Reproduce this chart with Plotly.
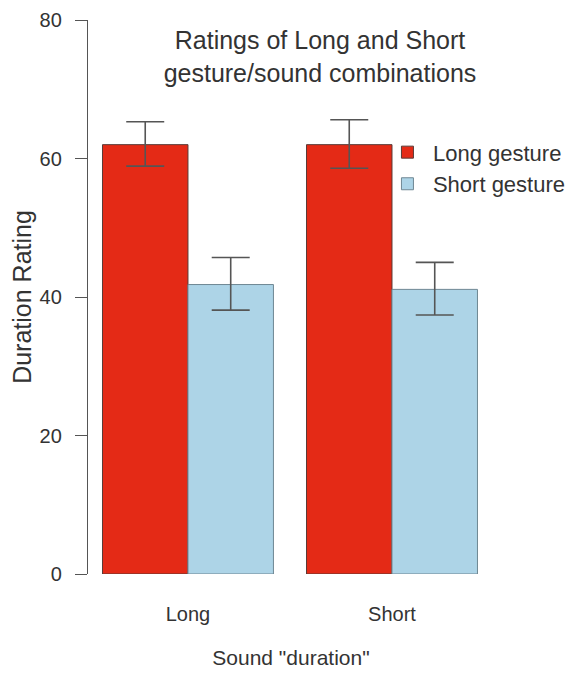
import plotly.graph_objects as go

categories = ["Long", "Short"]
series_names = ["Long gesture", "Short gesture"]
long_gesture = [62.0, 62.0]
short_gesture = [41.8, 41.1]
long_err_plus = [3.3, 3.6]
long_err_minus = [3.1, 3.4]
short_err_plus = [3.9, 3.9]
short_err_minus = [3.7, 3.7]
y_ticks = [0, 20, 40, 60, 80]

FONT = "Liberation Sans, Arial, Helvetica, sans-serif"
TXT = "#333333"

W, H = 565, 669  # page body has an 8px margin

fig = go.Figure()
fig.add_trace(go.Bar(
    x=categories, y=long_gesture, name=series_names[0],
    marker=dict(color="#E42A16", line=dict(color="#5a3a36", width=1)),
    error_y=dict(type="data", array=long_err_plus, arrayminus=long_err_minus,
                 color="#555555", thickness=1.6, width=19),
))
fig.add_trace(go.Bar(
    x=categories, y=short_gesture, name=series_names[1],
    marker=dict(color="#ADD4E7", line=dict(color="#6f8793", width=1)),
    error_y=dict(type="data", array=short_err_plus, arrayminus=short_err_minus,
                 color="#555555", thickness=1.6, width=19),
))

fig.update_layout(
    width=W, height=H,
    margin=dict(l=80, r=79, t=12, b=103, autoexpand=False),
    plot_bgcolor="white", paper_bgcolor="white",
    barmode="group", bargap=0.162, bargroupgap=0,
    font=dict(family=FONT, color=TXT),
    showlegend=True,
    legend=dict(x=0.724, y=0.799, xanchor="left", yanchor="top",
                font=dict(size=22, color=TXT), bgcolor="rgba(0,0,0,0)",
                itemwidth=41, tracegroupgap=0),
    title=dict(text="Ratings of Long and Short<br>gesture/sound combinations",
               x=312 / W, xanchor="center", y=1 - 41 / H, yanchor="middle",
               font=dict(size=25, color=TXT)),
)
fig.update_xaxes(
    range=[-0.49, 1.5], showline=False, ticks="", showgrid=False, automargin=False,
    tickfont=dict(size=20, color=TXT), ticklabelstandoff=26,
    title=dict(text='Sound "duration"', font=dict(size=21, color=TXT), standoff=26),
)
fig.update_yaxes(
    range=[0, 80], tickvals=y_ticks, showline=True, linecolor="#555555", linewidth=1.3,
    ticks="outside", ticklen=12, tickcolor="#555555", tickwidth=1.3,
    showgrid=False, zeroline=False, automargin=False, ticklabeloverflow="allow",
    tickfont=dict(size=20, color=TXT), ticklabelstandoff=9,
    title=dict(text="Duration Rating", font=dict(size=25, color=TXT), standoff=2),
)

fig.write_html("out.html")
